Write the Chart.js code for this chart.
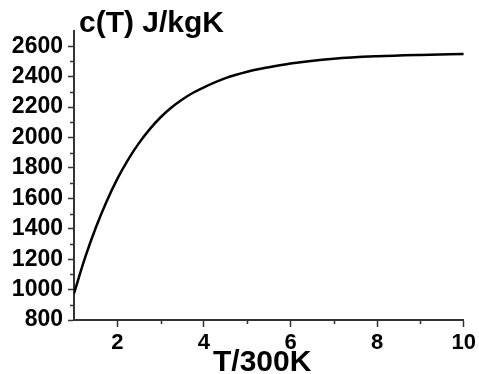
<!DOCTYPE html>
<html>
<head>
<meta charset="utf-8">
<script src="https://cdn.jsdelivr.net/npm/chart.js@4.4.1/dist/chart.umd.min.js"></script>
<style>
  html, body { margin: 0; padding: 0; background: #fff; }
  #wrap { width: 479px; height: 374px; }
</style>
</head>
<body>
<div id="wrap"><canvas id="heatChart" width="479" height="374"></canvas></div>
<script>
// temperature in units of 300 K
const tempValues = [1, 1.25, 1.5, 1.75, 2, 2.25, 2.5, 2.75, 3, 3.25, 3.5, 3.75, 4, 4.5, 5, 5.5, 6, 7, 8, 9, 10];
// specific heat c(T) in J/kgK
const heatValues = [975, 1205, 1405, 1578, 1728, 1855, 1963, 2055, 2133, 2197, 2250, 2294, 2330, 2390, 2432, 2462, 2487, 2518, 2534, 2543, 2549];

const yTicks = [800, 1000, 1200, 1400, 1600, 1800, 2000, 2200, 2400, 2600];
const yMinorTicks = [900, 1100, 1300, 1500, 1700, 1900, 2100, 2300, 2500];
const xTicks = [2, 4, 6, 8, 10];
const xMinorTicks = [3, 5, 7, 9];

const chartTitle = 'c(T) J/kgK';
const xTitle = 'T/300K';

const fontFamily = '"Liberation Sans", Arial, sans-serif';
const axisColor = '#333';

// small ticks between the labelled ones, plus the two axis titles
const extras = {
    id: 'extras',
    afterDraw(chart) {
        const ctx = chart.ctx;
        const x = chart.scales.x;
        const y = chart.scales.y;
        const area = chart.chartArea;
        ctx.save();
        ctx.strokeStyle = axisColor;
        ctx.lineWidth = 1.5;
        ctx.beginPath();
        yMinorTicks.forEach(v => {
            const py = Math.round(y.getPixelForValue(v)) + 0.5;
            ctx.moveTo(area.left - 4, py);
            ctx.lineTo(area.left, py);
        });
        xMinorTicks.forEach(v => {
            const px = Math.round(x.getPixelForValue(v)) + 0.5;
            ctx.moveTo(px, area.bottom);
            ctx.lineTo(px, area.bottom + 4);
        });
        ctx.stroke();

        ctx.fillStyle = '#000';
        ctx.textAlign = 'left';
        ctx.textBaseline = 'alphabetic';
        ctx.font = 'bold 30px ' + fontFamily;
        ctx.fillText(chartTitle, area.left + 5, 32);
        ctx.fillText(xTitle, area.left + 139, 371);
        ctx.restore();
    }
};

const ctx = document.getElementById('heatChart').getContext('2d');
const heatChart = new Chart(ctx, {
    type: 'line',
    data: {
        datasets: [{
            data: tempValues.map((t, i) => ({ x: t, y: heatValues[i] })),
            borderColor: '#000',
            borderWidth: 2.5,
            pointRadius: 0,
            fill: false,
            cubicInterpolationMode: 'monotone'
        }]
    },
    options: {
        responsive: false,
        animation: false,
        layout: { padding: { top: 31, right: 12, left: 0, bottom: 0 } },
        plugins: {
            legend: { display: false },
            tooltip: { enabled: false }
        },
        scales: {
            x: {
                type: 'linear',
                min: 1,
                max: 10,
                afterBuildTicks: scale => { scale.ticks = xTicks.map(v => ({ value: v })); },
                afterFit: scale => { scale.height = 54; },
                grid: { drawOnChartArea: false, drawTicks: true, tickLength: 7, tickColor: axisColor, tickWidth: 1.5 },
                border: { display: true, color: axisColor, width: 2 },
                ticks: {
                    color: '#000',
                    padding: 3,
                    maxRotation: 0,
                    callback: v => String(v),
                    font: { family: fontFamily, size: 22, weight: 'bold' }
                }
            },
            y: {
                type: 'linear',
                min: 800,
                max: 2700,
                afterBuildTicks: scale => { scale.ticks = yTicks.map(v => ({ value: v })); },
                afterFit: scale => { scale.width = 74; },
                grid: { drawOnChartArea: false, drawTicks: true, tickLength: 6, tickColor: axisColor, tickWidth: 1.5 },
                border: { display: true, color: axisColor, width: 2 },
                ticks: {
                    color: '#000',
                    padding: 5,
                    callback: v => String(v),
                    font: { family: fontFamily, size: 23, weight: 'bold' }
                }
            }
        }
    },
    plugins: [extras]
});
</script>
</body>
</html>
